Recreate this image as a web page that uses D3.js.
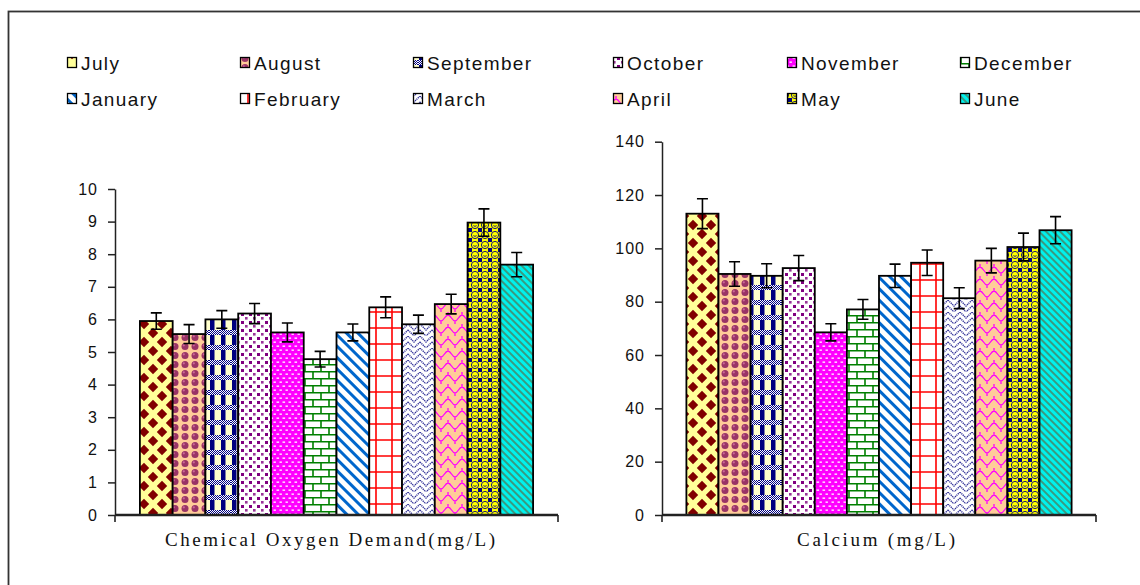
<!DOCTYPE html>
<html>
<head>
<meta charset="utf-8">
<script src="https://cdn.jsdelivr.net/npm/d3@7/dist/d3.min.js"></script>
<style>
  body { margin: 0; background: #fff; }
  svg { display: block; }
</style>
</head>
<body>
<svg id="chart" width="1140" height="585"></svg>
<script>
// ---- DATA ----
const months = ["July","August","September","October","November","December",
                "January","February","March","April","May","June"];
const codValues = [5.95, 5.55, 6.0, 6.18, 5.6, 4.78, 5.6, 6.37, 5.85, 6.47, 8.97, 7.68];
const codErrors = [0.25, 0.29, 0.27, 0.31, 0.29, 0.24, 0.26, 0.32, 0.28, 0.30, 0.42, 0.37];
const caValues  = [113.0, 90.4, 89.7, 92.6, 68.5, 77.1, 89.7, 94.6, 81.3, 95.4, 100.5, 106.8];
const caErrors  = [5.6, 4.6, 4.5, 4.7, 3.2, 3.7, 4.4, 4.8, 3.9, 4.6, 5.2, 5.1];
const codTicks = [0,1,2,3,4,5,6,7,8,9,10];
const caTicks  = [0,20,40,60,80,100,120,140];
const codTitle = "Chemical Oxygen Demand(mg/L)";
const caTitle  = "Calcium (mg/L)";

// ---- SETUP ----
const svg = d3.select("#chart");
svg.append("rect").attr("width",1140).attr("height",585).attr("fill","#fff");
svg.append("rect").attr("x",8.5).attr("y",11.5).attr("width",1160).attr("height",600)
  .attr("fill","none").attr("stroke","#333").attr("stroke-width",1.8);

const defs = svg.append("defs");
function pat(id, w, h, draw, transform) {
  const p = defs.append("pattern").attr("id", id).attr("patternUnits","userSpaceOnUse")
    .attr("width", w).attr("height", h);
  if (transform) p.attr("patternTransform", transform);
  draw(p);
  return "url(#" + id + ")";
}
pat("chk", 2, 2, p => {
  p.append("rect").attr("width",2).attr("height",2).attr("fill","#fff");
  p.append("rect").attr("width",1).attr("height",1).attr("fill","#000080");
  p.append("rect").attr("x",1).attr("y",1).attr("width",1).attr("height",1).attr("fill","#000080");
});

const fills = {};
fills.July = pat("pJul", 18, 18, p => {
  p.append("rect").attr("width",18).attr("height",18).attr("fill","#FFFF99");
  const d = (cx,cy,r) => `M${cx},${cy-r}L${cx+r},${cy}L${cx},${cy+r}L${cx-r},${cy}Z`;
  p.append("path").attr("fill","#800000")
    .attr("d", d(9,9,5.2)+d(0,0,5.2)+d(18,0,5.2)+d(0,18,5.2)+d(18,18,5.2));
});
fills.August = pat("pAug", 10, 9, p => {
  p.append("rect").attr("width",10).attr("height",9).attr("fill","#FFCC99");
  p.append("circle").attr("cx",5).attr("cy",4.5).attr("r",3.5).attr("fill","#993366");
  p.append("circle").attr("cx",3.8).attr("cy",3.3).attr("r",1.1).attr("fill","#CC6699");
});
fills.September = pat("pSep", 11, 15, p => {
  p.append("rect").attr("width",11).attr("height",15).attr("fill","#FFFFCC");
  p.append("rect").attr("x",1).attr("width",4.5).attr("height",15).attr("fill","#000080");
  p.append("rect").attr("y",0).attr("width",11).attr("height",5).attr("fill","url(#chk)");
});
fills.October = pat("pOct", 8, 8, p => {
  p.append("rect").attr("width",8).attr("height",8).attr("fill","#fff");
  p.append("rect").attr("x",1).attr("y",1).attr("width",3).attr("height",3).attr("fill","#800080");
  p.append("rect").attr("x",5).attr("y",5).attr("width",2.6).attr("height",2.6).attr("fill","#993399");
});
fills.November = pat("pNov", 6, 8, p => {
  p.append("rect").attr("width",6).attr("height",8).attr("fill","#FF00FF");
  p.append("rect").attr("x",0.5).attr("y",1.5).attr("width",2.6).attr("height",1.3).attr("fill","#fff");
  p.append("rect").attr("x",3.5).attr("y",5.5).attr("width",2.4).attr("height",1.3).attr("fill","#fff");
});
fills.December = pat("pDec", 16, 14, p => {
  p.append("rect").attr("width",16).attr("height",14).attr("fill","#fff");
  p.append("path").attr("stroke","#008000").attr("stroke-width",1.6).attr("fill","none")
    .attr("d","M0,0.8H16M0,7.8H16M1,0.8V7.8M9,7.8V14");
});
fills.January = pat("pJan", 8, 8, p => {
  p.append("rect").attr("width",8).attr("height",8).attr("fill","#fff");
  p.append("rect").attr("width",3).attr("height",8).attr("fill","#0066CC");
}, "rotate(-45)");
fills.February = pat("pFeb", 16, 16, p => {
  p.append("rect").attr("width",16).attr("height",16).attr("fill","#fff");
  p.append("path").attr("stroke","#FF0000").attr("stroke-width",1.6).attr("fill","none")
    .attr("d","M8,0V16M0,8H16");
});
fills.March = pat("pMar", 12, 12, p => {
  p.append("rect").attr("width",12).attr("height",12).attr("fill","#fff");
  p.append("path").attr("stroke","#333399").attr("stroke-width",1.5).attr("fill","none")
    .attr("stroke-dasharray","1.2,0.8")
    .attr("d","M0,0L6,6L12,0M0,6L6,12L12,6");
});
fills.April = pat("pApr", 14, 12, p => {
  p.append("rect").attr("width",14).attr("height",12).attr("fill","#FFCC99");
  p.append("path").attr("stroke","#FF00FF").attr("stroke-width",1.3).attr("fill","none")
    .attr("d","M0,3C3,3 4,9 7,9C10,9 11,3 14,3M7,9V12M0,0V3M14,0V3");
});
fills.May = pat("pMay", 10, 10, p => {
  p.append("rect").attr("width",10).attr("height",10).attr("fill","#FFFF00");
  [[0,0],[8,0],[0,8],[8,8]].forEach(([x,y]) =>
    p.append("rect").attr("x",x).attr("y",y).attr("width",2).attr("height",2).attr("fill","#000080"));
  p.append("circle").attr("cx",5).attr("cy",5).attr("r",3.6).attr("fill","#FFFF00")
    .attr("stroke","#000080").attr("stroke-width",0.9);
  p.append("path").attr("d","M3.4,5.6Q5,7.2 6.6,5.6").attr("stroke","#000080")
    .attr("stroke-width",0.9).attr("fill","none");
});
fills.June = pat("pJun", 5, 5, p => {
  p.append("rect").attr("width",5).attr("height",5).attr("fill","#00F2EE");
  p.append("rect").attr("width",2).attr("height",5).attr("fill","#3A9A80");
}, "rotate(-45)");

// ---- CHART DRAWER ----
function drawChart(cfg) {
  const g = svg.append("g");
  const y = d3.scaleLinear().domain(cfg.domain).range([515, cfg.top]);
  const x = d3.scaleBand().domain(months).range([cfg.left, cfg.right])
    .paddingInner(0).paddingOuter(0.76);

  const ya = g.append("g").attr("transform", `translate(${cfg.left},0)`)
    .call(d3.axisLeft(y).tickValues(cfg.ticks).tickSize(7).tickSizeOuter(0).tickPadding(10));
  ya.select(".domain").attr("stroke","#222").attr("stroke-width",1.5);
  ya.selectAll(".tick line").attr("stroke","#222").attr("stroke-width",1.5);
  ya.selectAll(".tick text").attr("font-family","'Liberation Sans', Arial, sans-serif")
    .attr("font-size",16).attr("letter-spacing",1).attr("fill","#111");

  g.selectAll("rect.bar").data(months).enter().append("rect")
    .attr("class","bar")
    .attr("x", d => x(d))
    .attr("width", x.bandwidth())
    .attr("y", (d,i) => y(cfg.values[i]))
    .attr("height", (d,i) => 515 - y(cfg.values[i]))
    .attr("fill", d => fills[d])
    .attr("stroke","#000").attr("stroke-width",1.8);

  g.append("path").attr("fill","none").attr("stroke","#222").attr("stroke-width",2.4)
    .attr("d", `M${cfg.left},515H${cfg.right}`);
  g.append("path").attr("fill","none").attr("stroke","#222").attr("stroke-width",1.6)
    .attr("d", `M${cfg.left},515V522M${cfg.right},515V522`);

  const cap = 5.5;
  const eb = g.selectAll("g.err").data(months).enter().append("g").attr("class","err");
  eb.append("path").attr("fill","none").attr("stroke","#000").attr("stroke-width",1.6)
    .attr("d", (d,i) => {
      const cx = x(d) + x.bandwidth()/2;
      const hi = y(cfg.values[i] + cfg.errors[i]);
      const lo = y(cfg.values[i] - cfg.errors[i]);
      return `M${cx},${hi}V${lo}M${cx-cap},${hi}H${cx+cap}M${cx-cap},${lo}H${cx+cap}`;
    });

  g.append("text").attr("x", cfg.titleX).attr("y", 546)
    .attr("font-family","'Liberation Serif', 'Times New Roman', serif")
    .attr("font-size",19).attr("fill","#111")
    .attr("textLength", cfg.titleLen).attr("lengthAdjust","spacing")
    .text(cfg.title);
}

drawChart({values: codValues, errors: codErrors, domain:[0,10], ticks: codTicks,
  top: 189, left: 115, right: 558, title: codTitle, titleX: 165, titleLen: 330});
drawChart({values: caValues, errors: caErrors, domain:[0,140], ticks: caTicks,
  top: 141.7, left: 662, right: 1096, title: caTitle, titleX: 797, titleLen: 158});

// ---- LEGEND ----
const legCols = [67, 240, 413, 613, 787, 960];
const legRows = [57, 93];
const leg = svg.append("g");
months.forEach((m, i) => {
  const lx = legCols[i % 6], ly = legRows[Math.floor(i / 6)];
  leg.append("rect").attr("x", lx + 0.5).attr("y", ly + 0.5).attr("width", 9).attr("height", 10)
    .attr("fill", fills[m]).attr("stroke","#000").attr("stroke-width",1.3);
  leg.append("text").attr("x", lx + 14).attr("y", ly + 13)
    .attr("font-family","'Liberation Sans', Arial, sans-serif").attr("font-size",19)
    .attr("letter-spacing",1.4).attr("fill","#111").text(m);
});
</script>
</body>
</html>
